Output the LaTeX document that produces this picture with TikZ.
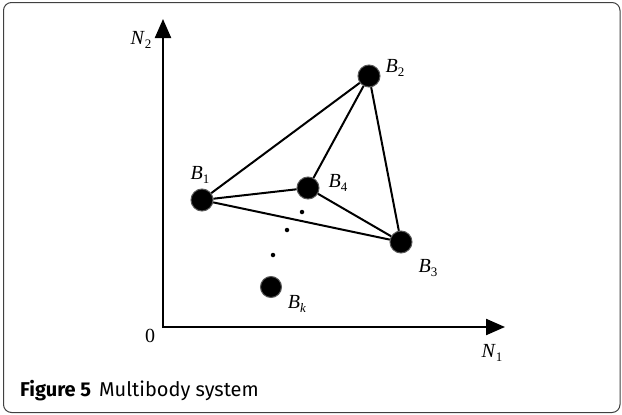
\documentclass[tikz,border=0pt]{standalone}
\usepackage{fontspec}
\setmainfont{Liberation Serif}
\newfontfamily\capfont{Fira Sans}
\usetikzlibrary{arrows.meta,positioning}

\newcommand{\blab}[2]{\textit{#1}\raisebox{-0.5ex}{\fontsize{13}{13}\selectfont #2}}

\begin{document}
\begin{tikzpicture}[
    x=1pt, y=-1pt,
    body/.style={circle, fill=black, draw=black!65, line width=1pt, minimum size=22pt, inner sep=0pt},
    dotmark/.style={circle, fill=black, minimum size=4.5pt, inner sep=0pt},
    link/.style={line width=2pt},
    axis/.style={line width=2.2pt, -{Triangle[length=19pt,width=16pt]}},
    lbl/.style={font=\fontsize{20}{20}\selectfont, inner sep=0pt}
]
\useasboundingbox (0,0) rectangle (622,415);
\draw[black!75, line width=1pt, rounded corners=8pt] (3.5,2.5) rectangle (620,412.5);

% axes
\coordinate (o) at (163,327);
\coordinate (ytip) at (163,19);
\coordinate (xtip) at (505,327);
\draw[axis] (163,328) -- (ytip);
\draw[axis] (162,327) -- (xtip);
\node[lbl] (zero) at (150,336) {0};
\node[lbl] (n2) at (141,40) {\blab{N}{2}};
\node[lbl] (n1) at (492,353) {\blab{N}{1}};

% bodies
\node[body] (b1) at (202,200) {};
\node[body] (b2) at (369,76) {};
\node[body] (b3) at (401,242) {};
\node[body] (b4) at (308,188) {};
\node[body, minimum size=21pt] (bk) at (271,287) {};

% links
\draw[link] (b1) -- (b2);
\draw[link] (b2) -- (b4);
\draw[link] (b2) -- (b3);
\draw[link] (b1) -- (b4);
\draw[link] (b1) -- (b3);
\draw[link] (b4) -- (b3);

% dots between B4 and Bk
\node[dotmark] (d1) at (302,212) {};
\node[dotmark] (d2) at (287,230) {};
\node[dotmark] (d3) at (273,255) {};

% body labels
\node[lbl] (l1) at (200,175) {\blab{B}{1}};
\node[lbl] (l2) at (395,68) {\blab{B}{2}};
\node[lbl] (l3) at (428,268) {\blab{B}{3}};
\node[lbl] (l4) at (338,183) {\blab{B}{4}};
\node[lbl] (lk) at (297,304) {\blab{B}{\textit{k}}};

% caption
\node[anchor=base west, inner sep=0pt, font=\capfont\fontsize{20}{22}\selectfont] (cap) at (20,396)
    {\textbf{Figure 5}\hspace{0.4em}Multibody system};
\end{tikzpicture}
\end{document}
